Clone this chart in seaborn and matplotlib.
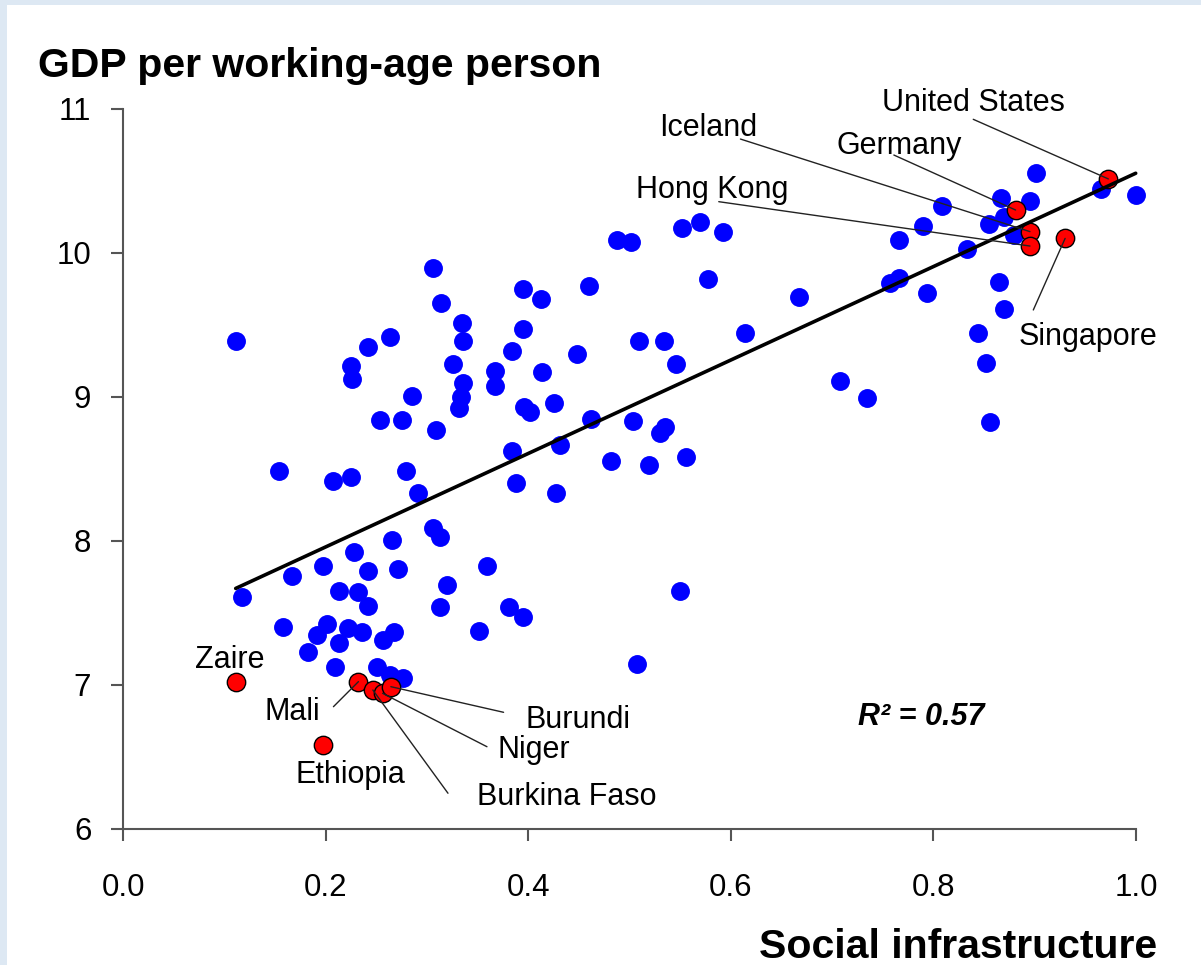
import numpy as np
import pandas as pd
import matplotlib
matplotlib.use("Agg")
import matplotlib.pyplot as plt
from matplotlib.patches import Rectangle
import seaborn as sns

# Social infrastructure index vs. log GDP per working-age person
blue_x = [0.306, 0.4875, 0.5014, 0.395, 0.412, 0.460, 0.314, 0.334, 0.335, 0.395,
          0.384, 0.448, 0.111, 0.242, 0.2635, 0.2247, 0.2263, 0.3258, 0.3666, 0.3666,
          0.4134, 0.3357, 0.3334, 0.3317, 0.2846, 0.3953, 0.4019, 0.425, 0.2537, 0.275,
          0.3083, 0.4622, 0.4816, 0.3841, 0.4308, 0.388, 0.4269, 0.1542, 0.2069, 0.2247,
          0.279, 0.2909, 0.5518, 0.5692, 0.5923, 0.5771, 0.5089, 0.5343, 0.5462, 0.6143,
          0.503, 0.5346, 0.5297, 0.5557, 0.5188, 0.9651, 0.9997, 0.9009, 0.8953, 0.8663,
          0.8547, 0.8696, 0.8795, 0.8081, 0.790, 0.7662, 0.8330, 0.7566, 0.7658, 0.7939,
          0.667, 0.8643, 0.8696, 0.8443, 0.8522, 0.7075, 0.7346, 0.8557, 0.117, 0.1664,
          0.197, 0.2283, 0.2658, 0.3063, 0.3123, 0.2421, 0.2708, 0.2131, 0.2322, 0.2421,
          0.3196, 0.3591, 0.3123, 0.3804, 0.3947, 0.3508, 0.1581, 0.201, 0.1911, 0.2223,
          0.2356, 0.2131, 0.2675, 0.2569, 0.1822, 0.2092, 0.2504, 0.2635, 0.2757, 0.5501,
          0.5073]
blue_y = [9.896, 10.089, 10.073, 9.747, 9.677, 9.772, 9.649, 9.515, 9.387, 9.471,
          9.320, 9.295, 9.390, 9.348, 9.415, 9.214, 9.126, 9.226, 9.179, 9.075,
          9.172, 9.094, 9.001, 8.920, 9.008, 8.931, 8.897, 8.960, 8.841, 8.841,
          8.772, 8.844, 8.554, 8.626, 8.665, 8.404, 8.334, 8.487, 8.417, 8.443,
          8.487, 8.334, 10.170, 10.212, 10.142, 9.816, 9.390, 9.390, 9.230, 9.445,
          8.832, 8.790, 8.747, 8.582, 8.526, 10.442, 10.401, 10.557, 10.362, 10.378,
          10.200, 10.250, 10.124, 10.325, 10.186, 10.089, 10.025, 9.788, 9.827, 9.719,
          9.691, 9.800, 9.608, 9.441, 9.237, 9.112, 8.990, 8.827, 7.608, 7.756,
          7.827, 7.924, 8.006, 8.087, 8.024, 7.790, 7.802, 7.651, 7.647, 7.550,
          7.693, 7.827, 7.538, 7.542, 7.473, 7.376, 7.404, 7.422, 7.346, 7.392,
          7.365, 7.292, 7.365, 7.311, 7.226, 7.122, 7.126, 7.068, 7.045, 7.651,
          7.144]

# Highlighted countries
countries = ["Zaire", "Mali", "Burkina Faso", "Niger", "Burundi", "Ethiopia",
             "Germany", "Iceland", "Hong Kong", "Singapore", "United States"]
country_x = [0.1114, 0.2322, 0.2464, 0.256, 0.2642, 0.197,
             0.8811, 0.8953, 0.8953, 0.930, 0.9727]
country_y = [7.017, 7.022, 6.964, 6.941, 6.987, 6.582,
             10.297, 10.147, 10.047, 10.100, 10.513]

# Label placement (text centre) and leader-line start, data units
label_pos = {
    "United States": (0.8396, 11.04), "Germany": (0.7665, 10.742),
    "Iceland": (0.5778, 10.867), "Hong Kong": (0.5817, 10.436),
    "Singapore": (0.9522, 9.415), "Zaire": (0.1054, 7.172),
    "Mali": (0.1667, 6.811), "Ethiopia": (0.224, 6.374),
    "Burundi": (0.4493, 6.756), "Niger": (0.4049, 6.547),
    "Burkina Faso": (0.4375, 6.221),
}
leader_start = {
    "United States": (0.8393, 10.927), "Germany": (0.7609, 10.679),
    "Iceland": (0.6094, 10.790), "Hong Kong": (0.588, 10.355),
    "Singapore": (0.8986, 9.603), "Mali": (0.2075, 6.848),
    "Burundi": (0.3755, 6.809), "Niger": (0.3591, 6.570),
    "Burkina Faso": (0.3206, 6.247),
}

x_ticks = [0.0, 0.2, 0.4, 0.6, 0.8, 1.0]
x_tick_labels = ["0.0", "0.2", "0.4", "0.6", "0.8", "1.0"]
y_ticks = [6, 7, 8, 9, 10, 11]
y_tick_labels = ["6", "7", "8", "9", "10", "11"]

sns.set_style("white")
plt.rcParams["font.family"] = ["Liberation Sans", "DejaVu Sans"]
plt.rcParams["text.color"] = "black"
plt.rcParams["xtick.color"] = "black"
plt.rcParams["ytick.color"] = "black"

W, H = 1201, 965
fig = plt.figure(figsize=(W / 100, H / 100), dpi=100)
fig.patch.set_facecolor("#dde8f3")
fig.patches.append(Rectangle((7 / W, 0), 1, 1 - 5 / H, transform=fig.transFigure,
                             facecolor="white", edgecolor="none", zorder=-10))

ax = fig.add_axes([123.3 / W, 1 - 828.8 / H, (1136 - 123.3) / W, (828.8 - 108.8) / H])
ax.set_facecolor("none")

df_all = pd.DataFrame({"x": blue_x + country_x, "y": blue_y + country_y})
df_blue = pd.DataFrame({"x": blue_x, "y": blue_y})
df_red = pd.DataFrame({"x": country_x, "y": country_y, "country": countries})

sns.scatterplot(data=df_blue, x="x", y="y", ax=ax, color="#0000ff", s=185,
                linewidth=0, zorder=3)
sns.scatterplot(data=df_red, x="x", y="y", ax=ax, color="#ff0000", s=175,
                edgecolor="black", linewidth=1.0, zorder=4)
for coll in ax.collections:
    coll.set_clip_on(False)

sns.regplot(data=df_all, x="x", y="y", ax=ax, scatter=False, ci=None, truncate=True,
            color="black", line_kws={"linewidth": 2.6, "zorder": 5})
for ln in ax.lines:
    ln.set_clip_on(False)

# Country labels and leader lines
for name, cx, cy in zip(countries, country_x, country_y):
    tx, ty = label_pos[name]
    ax.text(tx, ty, name, ha="center", va="center", fontsize=22, color="black",
            zorder=7)
    if name in leader_start:
        sx, sy = leader_start[name]
        ax.annotate("", xy=(cx, cy), xytext=(sx, sy),
                    arrowprops=dict(arrowstyle="-", color="#222222", lw=1.0,
                                    shrinkA=0, shrinkB=0),
                    annotation_clip=False, zorder=6)

ax.text(0.788, 6.776, "R² = 0.57", ha="center", va="center", fontsize=22,
        fontweight="bold", fontstyle="italic", color="black", zorder=7)

ax.set_xlim(0, 1.0)
ax.set_ylim(6, 11)
ax.set_xticks(x_ticks)
ax.set_xticklabels(x_tick_labels)
ax.set_yticks(y_ticks)
ax.set_yticklabels(y_tick_labels)
ax.set_xlabel("")
ax.set_ylabel("")

for side in ["top", "right"]:
    ax.spines[side].set_visible(False)
for side in ["left", "bottom"]:
    ax.spines[side].set_color("#555555")
    ax.spines[side].set_linewidth(1.5)
ax.tick_params(axis="both", which="major", bottom=True, left=True, top=False,
               right=False, direction="out", length=8.5, width=1.5,
               color="#555555", labelsize=22.5, labelcolor="black")
ax.tick_params(axis="y", pad=14.5)
ax.tick_params(axis="x", pad=23)

fig.text(38 / W, 1 - 77 / H, "GDP per working-age person", ha="left", va="baseline",
         fontsize=29.5, fontweight="bold", color="black")
fig.text(1157 / W, 1 - 958 / H, "Social infrastructure", ha="right", va="baseline",
         fontsize=29.5, fontweight="bold", color="black")

fig.savefig("out.png", dpi=100, facecolor=fig.get_facecolor())
